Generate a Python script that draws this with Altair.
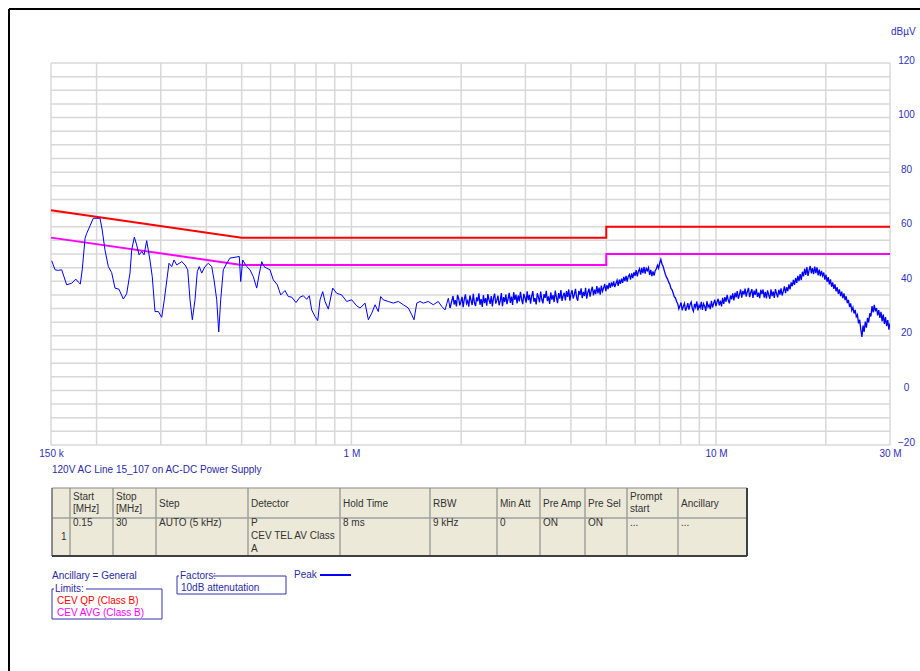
import altair as alt
import numpy as np
import pandas as pd

# ---------------------------------------------------------------------------
# Peak trace, 150 kHz .. 1.9 MHz (individually resolved points)
scan_freq_mhz = [
    0.1507, 0.1539, 0.157, 0.1605, 0.1656, 0.171, 0.1754, 0.1782, 0.1805, 0.1827,
    0.186, 0.188, 0.1919, 0.1959, 0.2044, 0.2073, 0.2109, 0.2154, 0.22, 0.2247,
    0.2304, 0.2368, 0.2419, 0.247, 0.2497, 0.2539, 0.2577, 0.2616, 0.2661, 0.27,
    0.2745, 0.2802, 0.2843, 0.2893, 0.2955, 0.3018, 0.3068, 0.316, 0.3215, 0.3262,
    0.3318, 0.3425, 0.3497, 0.3557, 0.3609, 0.3662, 0.3724, 0.3779, 0.3826, 0.3885,
    0.3967, 0.4051, 0.4139, 0.42, 0.4272, 0.4326, 0.438, 0.4453, 0.455, 0.4645,
    0.4796, 0.4926, 0.497, 0.5033, 0.5162, 0.5271, 0.5382, 0.5499, 0.558, 0.5676,
    0.5759, 0.5857, 0.598, 0.6107, 0.6263, 0.6399, 0.6575, 0.6713, 0.686, 0.7048,
    0.7229, 0.738, 0.754, 0.7665, 0.7782, 0.7947, 0.8084, 0.8202, 0.8343, 0.8465,
    0.8643, 0.8886, 0.9114, 0.9406, 0.9706, 1.0017, 1.034, 1.056, 1.09, 1.113,
    1.137, 1.161, 1.185, 1.203, 1.223, 1.262, 1.303, 1.345, 1.388, 1.433,
    1.464, 1.485, 1.511, 1.542, 1.575, 1.625, 1.677, 1.731, 1.768, 1.806,
    1.844, 1.864,
]
scan_level_dbuv = [
    47.5, 44.2, 44.0, 44.2, 38.7, 39.3, 40.8, 39.7, 39.0, 44.2,
    55.8, 57.6, 60.3, 63.1, 63.1, 58.8, 51.5, 45.4, 43.2, 37.5,
    37.1, 33.5, 35.4, 43.0, 51.5, 56.2, 53.3, 49.7, 50.9, 49.7,
    54.9, 47.8, 41.7, 28.9, 28.9, 26.8, 33.2, 46.6, 45.4, 47.8,
    46.0, 47.2, 46.0, 44.2, 33.2, 25.9, 33.2, 43.6, 45.4, 43.0,
    45.4, 46.6, 45.4, 40.5, 33.2, 21.4, 33.2, 44.2, 46.6, 48.5,
    48.8, 49.1, 39.9, 47.8, 45.4, 44.2, 41.7, 37.5, 42.3, 47.2,
    45.4, 44.8, 44.2, 40.5, 38.7, 35.0, 36.6, 34.4, 34.2, 32.2,
    34.2, 34.7, 33.4, 34.7, 29.5, 27.1, 25.6, 33.2, 36.2, 32.6,
    29.8, 37.5, 35.6, 35.0, 32.6, 33.2, 31.0, 30.2, 32.0, 25.9,
    28.3, 31.4, 28.9, 34.4, 33.2, 32.6, 32.0, 32.6, 31.4, 30.2,
    27.7, 25.9, 32.0, 32.6, 32.0, 32.6, 31.4, 32.6, 30.8, 29.5,
    33.8, 30.2,
]

# Peak trace, 1.9 .. 30 MHz (dense, log-spaced sweep points)
dense_start_mhz, dense_stop_mhz = 1.9, 30.0
dense_level_dbuv = [
    34.6, 31.5, 33.1, 30.8, 35.0, 33.7, 31.2, 32.6, 34.3, 30.5,
    33.4, 35.2, 31.9, 32.9, 30.7, 34.8, 33.0, 31.3, 35.4, 32.2,
    30.9, 34.1, 32.7, 35.6, 31.4, 33.5, 30.6, 34.9, 32.0, 33.8,
    31.1, 35.3, 33.2, 31.7, 34.6, 30.8, 33.9, 35.5, 31.8, 33.0,
    34.7, 31.2, 32.8, 35.7, 30.9, 34.2, 32.4, 35.1, 31.6, 33.6,
    35.8, 32.1, 34.4, 31.3, 36.0, 33.2, 35.1, 31.9, 34.8, 32.6,
    36.1, 33.5, 31.6, 35.4, 34.0, 32.2, 36.3, 33.1, 35.0, 31.8,
    34.6, 36.4, 32.5, 33.8, 31.5, 35.6, 34.2, 32.3, 36.2, 33.4,
    31.9, 35.3, 33.9, 36.5, 32.7, 34.5, 31.7, 35.9, 33.3, 34.9,
    32.4, 36.6, 34.1, 32.0, 35.7, 33.6, 36.8, 32.8, 34.7, 35.8,
    33.0, 36.4, 34.3, 37.0, 32.9, 35.5, 36.7, 33.7, 35.2, 37.2,
    34.0, 32.9, 36.5, 35.0, 37.4, 33.8, 36.1, 34.6, 37.6, 33.6,
    35.9, 37.3, 34.4, 36.6, 38.0, 34.8, 36.9, 35.3, 38.2, 35.6,
    37.7, 35.1, 38.4, 36.3, 37.5, 39.0, 36.4, 38.6, 37.1, 39.4,
    37.6, 39.6, 38.1, 40.0, 37.9, 39.2, 40.4, 38.3, 40.6, 39.1,
    41.0, 39.4, 41.6, 40.1, 42.0, 39.9, 41.8, 42.5, 40.6, 42.9,
    41.2, 43.3, 42.0, 44.1, 41.8, 43.6, 44.6, 42.4, 44.9, 43.0,
    45.3, 42.8, 44.7, 43.9, 45.0, 42.3, 44.2, 41.9, 43.6, 42.1,
    43.9, 44.6, 45.9, 44.8, 46.7, 48.0, 46.3, 45.5, 44.0, 42.6,
    41.5, 40.8, 39.6, 38.9, 37.4, 36.9, 35.6, 34.3, 33.9, 32.6,
    31.8, 29.9, 31.0, 32.2, 29.4, 30.8, 31.9, 29.2, 30.4, 32.0,
    29.6, 31.5, 32.4, 30.1, 29.0, 31.7, 30.5, 32.6, 29.3, 31.2,
    30.3, 32.5, 29.5, 31.8, 30.9, 29.1, 32.7, 30.6, 31.4, 29.8,
    32.8, 30.4, 31.9, 33.3, 30.9, 32.4, 33.6, 31.2, 32.9, 30.8,
    33.9, 31.7, 34.2, 32.5, 35.0, 33.1, 31.9, 34.8, 33.4, 35.6,
    33.0, 35.8, 34.1, 36.4, 33.6, 35.2, 37.0, 34.0, 36.5, 35.1,
    37.3, 34.4, 36.2, 37.6, 34.2, 35.9, 37.1, 33.9, 36.6, 35.0,
    37.2, 34.3, 35.8, 33.8, 36.9, 35.3, 37.0, 34.0, 36.1, 33.7,
    36.7, 35.0, 33.6, 37.0, 34.6, 36.2, 33.9, 37.1, 35.5, 34.1,
    36.9, 35.1, 37.4, 34.8, 36.3, 38.1, 35.7, 37.8, 36.4, 38.9,
    37.0, 39.6, 38.2, 40.5, 38.7, 41.2, 39.4, 42.0, 40.1, 42.6,
    40.4, 43.5, 41.8, 44.6, 42.3, 45.2, 42.0, 44.1, 45.6, 42.9,
    44.8, 42.6, 45.4, 43.0, 45.1, 42.2, 44.3, 41.9, 43.8, 42.0,
    43.2, 40.6, 42.4, 39.8, 41.5, 38.9, 40.7, 38.0, 39.6, 37.2,
    38.9, 36.3, 37.8, 35.4, 37.0, 34.6, 36.2, 33.8, 35.6, 33.1,
    34.5, 32.0, 33.2, 30.6, 31.9, 29.3, 30.4, 28.2, 29.5, 27.0,
    27.8, 24.6, 25.9, 22.4, 19.6, 23.8, 21.5, 25.2, 23.0, 26.6,
    24.9, 28.3, 27.1, 30.9, 28.6, 31.4, 29.0, 30.2, 27.5, 29.4,
    26.6, 28.8, 25.3, 27.9, 24.4, 26.9, 23.6, 25.8, 22.3, 24.6,
]

# Limit lines (CEV QP / CEV AVG, Class B)
qp_freq_mhz = [0.15, 0.5, 5.0, 5.0, 30.0]
qp_level_dbuv = [66, 56, 56, 60, 60]
avg_freq_mhz = [0.15, 0.5, 5.0, 5.0, 30.0]
avg_level_dbuv = [56, 46, 46, 50, 50]

# Axis ticks and grid
x_tick_values = [0.15, 1, 10, 30]
x_tick_labels = ["150 k", "1 M", "10 M", "30 M"]
y_tick_values = [-20, 0, 20, 40, 60, 80, 100, 120]
grid_freq_mhz = [0.15, 0.2, 0.3, 0.4, 0.5, 0.6, 0.7, 0.8, 0.9,
                 1, 2, 3, 4, 5, 6, 7, 8, 9, 10, 20, 30]
grid_level_dbuv = list(range(-20, 121, 5))

# Scan settings table
table_headers = [["", ""], ["Start", "[MHz]"], ["Stop", "[MHz]"], ["Step"], ["Detector"],
                 ["Hold Time"], ["RBW"], ["Min Att"], ["Pre Amp"], ["Pre Sel"],
                 ["Prompt", "start"], ["Ancillary"]]
table_row = [["1"], ["0.15"], ["30"], ["AUTO (5 kHz)"], ["P", "CEV TEL AV Class", "A"],
             ["8 ms"], ["9 kHz"], ["0"], ["ON"], ["ON"], ["..."], ["..."]]

chart_caption = "120V AC Line 15_107 on AC-DC Power Supply"
unit_label = "dBµV"

# ---------------------------------------------------------------------------
# Layout (pixels)
PLOT_W, PLOT_H = 839, 382
OX, OY = 51, 63
FONT = "Liberation Sans"
FS = 10
BLUE_TXT = "#3030c0"
NAVY_TXT = "#2a2aa8"
TRACE = "#0000ff"
RED = "#ff0000"
MAGENTA = "#ff00ff"
GRID = "#d8d8d8"

col_edges = [52, 70, 113, 156, 248, 340, 430, 497, 540, 585, 627, 678, 747]
tbl_top, tbl_mid, tbl_bot = 488, 518, 556

xscale = alt.Scale(type="log", domain=[0.15, 30], nice=False)
yscale = alt.Scale(domain=[-20, 120], nice=False, zero=False)

label_expr = " : ".join(
    f"abs(datum.value - {v}) < 1e-6 ? '{l}'" for v, l in zip(x_tick_values, x_tick_labels)
) + " : ''"

xaxis = alt.Axis(values=x_tick_values, labelExpr=label_expr, grid=False,
                 domain=False, ticks=False, labelFont=FONT, labelFontSize=FS,
                 labelColor=BLUE_TXT, labelPadding=3, title=None, labelOverlap=False,
                 labelFlush=False)
yaxis = alt.Axis(orient="right", values=y_tick_values, grid=False, domain=False,
                 ticks=False, labelFont=FONT, labelFontSize=FS,
                 labelColor=BLUE_TXT, labelAlign="center", labelPadding=16,
                 labelBaseline="alphabetic", title=None, labelOverlap=False,
                 labelFlush=False)

# Grid
vgrid = alt.Chart(pd.DataFrame({"f": grid_freq_mhz})).mark_rule(
    color=GRID, strokeWidth=1.5
).encode(
    x=alt.X("f:Q", scale=xscale, axis=xaxis),
    y=alt.value(0), y2=alt.value(PLOT_H),
)
hgrid = alt.Chart(pd.DataFrame({"l": grid_level_dbuv})).mark_rule(
    color=GRID, strokeWidth=1.5
).encode(
    y=alt.Y("l:Q", scale=yscale, axis=yaxis),
    x=alt.value(0), x2=alt.value(PLOT_W),
)

# Trace: resolved low-frequency part and dense sweep part (joined at 1.864 MHz)
dense_freq_mhz = np.geomspace(dense_start_mhz, dense_stop_mhz, len(dense_level_dbuv))
low_df = pd.DataFrame({"f": scan_freq_mhz, "l": scan_level_dbuv})
low_df["i"] = range(len(low_df))
dense_df = pd.DataFrame({
    "f": [scan_freq_mhz[-1]] + list(dense_freq_mhz),
    "l": [scan_level_dbuv[-1]] + list(dense_level_dbuv),
})
dense_df["i"] = range(len(dense_df))

trace_low = alt.Chart(low_df).mark_line(color=TRACE, strokeWidth=1, clip=True).encode(
    x=alt.X("f:Q", scale=xscale, axis=xaxis),
    y=alt.Y("l:Q", scale=yscale, axis=yaxis),
    order="i:Q",
)
trace_dense = alt.Chart(dense_df).mark_line(color=TRACE, strokeWidth=1.3, clip=True).encode(
    x=alt.X("f:Q", scale=xscale, axis=xaxis),
    y=alt.Y("l:Q", scale=yscale, axis=yaxis),
    order="i:Q",
)

limits_df = pd.concat([
    pd.DataFrame({"f": qp_freq_mhz, "l": qp_level_dbuv, "name": "QP",
                  "i": range(len(qp_freq_mhz))}),
    pd.DataFrame({"f": avg_freq_mhz, "l": avg_level_dbuv, "name": "AVG",
                  "i": range(len(avg_freq_mhz))}),
])
limits = alt.Chart(limits_df).mark_line(strokeWidth=2).encode(
    x=alt.X("f:Q", scale=xscale, axis=xaxis),
    y=alt.Y("l:Q", scale=yscale, axis=yaxis),
    detail="name:N",
    order="i:Q",
    color=alt.Color("name:N", scale=alt.Scale(domain=["QP", "AVG"], range=[RED, MAGENTA]),
                    legend=None),
)

# ---------------------------------------------------------------------------
# Decorations drawn in pixel space (relative to the plot origin)
def P(x, y):
    return x - OX, y - OY

rect_rows = []
def add_rect(x1, y1, x2, y2, fill, stroke, sw=1):
    a, b = P(x1, y1)
    c, d = P(x2, y2)
    rect_rows.append(dict(x=a, y=b, x2=c, y2=d, fill=fill, stroke=stroke, sw=sw))

rule_rows = []
def add_rule(x1, y1, x2, y2, color, w=1):
    a, b = P(x1, y1)
    c, d = P(x2, y2)
    rule_rows.append(dict(x=a, y=b, x2=c, y2=d, color=color, w=w))

text_rows = []
def add_text(x, y, s, color="#333333", size=FS):
    a, b = P(x, y)
    text_rows.append(dict(x=a, y=b, text=s, color=color, size=size))

# figure frame
add_rule(9, 9, 9, 671, "#000000", 2)
add_rule(9, 9, 920, 9, "#000000", 2)

# table
add_rect(col_edges[0], tbl_top, col_edges[-1], tbl_bot, "#ece9d8", "#ece9d8", 0)
for e in col_edges[1:-1]:
    add_rule(e, tbl_top, e, tbl_bot, "#a0a0a0", 1.5)
add_rule(col_edges[0], tbl_mid, col_edges[-1], tbl_mid, "#a0a0a0", 1.5)
add_rule(col_edges[0], tbl_top, col_edges[-1], tbl_top, "#8a8a8a", 1)
add_rule(col_edges[0], tbl_top, col_edges[0], tbl_bot, "#6a6a6a", 1.5)
add_rule(col_edges[0], tbl_bot, col_edges[-1], tbl_bot, "#404040", 2)
add_rule(col_edges[-1], tbl_top, col_edges[-1], tbl_bot, "#404040", 2)

for k, lines in enumerate(table_headers):
    lines = [s for s in lines if s]
    if not lines:
        continue
    ys = [504] if len(lines) == 1 else [497, 509]
    for s, yy in zip(lines, ys):
        add_text(col_edges[k] + 3, yy, s)
for k, lines in enumerate(table_row):
    if k == 0:
        add_text(61, 537, lines[0])
        continue
    for j, s in enumerate(lines):
        add_text(col_edges[k] + 3, 523 + 13 * j, s)

# caption and unit
add_text(52, 470, chart_caption, NAVY_TXT)
add_text(891, 32, unit_label, BLUE_TXT)

# legend block
add_text(52, 576, "Ancillary = General", NAVY_TXT)
add_rect(52, 589, 162, 619, "none", "#3030b0", 1)
add_rect(54, 584, 86, 594, "#ffffff", "#ffffff", 0)
add_text(55, 589, "Limits:", NAVY_TXT)
add_text(57, 601, "CEV QP (Class B)", RED)
add_text(57, 613, "CEV AVG (Class B)", MAGENTA)
add_rect(177, 576, 286, 594, "none", "#3030b0", 1)
add_rect(179, 571, 213, 581, "#ffffff", "#ffffff", 0)
add_text(180, 576, "Factors:", NAVY_TXT)
add_text(181, 588, "10dB attenutation", NAVY_TXT)
add_text(294, 575, "Peak", NAVY_TXT)
add_rule(320, 575, 351, 575, TRACE, 2)

rects = alt.Chart(pd.DataFrame(rect_rows)).mark_rect().encode(
    x=alt.X("x:Q", scale=None), x2="x2:Q",
    y=alt.Y("y:Q", scale=None), y2="y2:Q",
    fill=alt.Fill("fill:N", scale=None),
    stroke=alt.Stroke("stroke:N", scale=None),
    strokeWidth=alt.StrokeWidth("sw:Q", scale=None),
)
rules = alt.Chart(pd.DataFrame(rule_rows)).mark_rule().encode(
    x=alt.X("x:Q", scale=None), x2="x2:Q",
    y=alt.Y("y:Q", scale=None), y2="y2:Q",
    color=alt.Color("color:N", scale=None),
    strokeWidth=alt.StrokeWidth("w:Q", scale=None),
)
texts = alt.Chart(pd.DataFrame(text_rows)).mark_text(
    align="left", baseline="middle", font=FONT
).encode(
    x=alt.X("x:Q", scale=None),
    y=alt.Y("y:Q", scale=None),
    text="text:N",
    color=alt.Color("color:N", scale=None),
    size=alt.Size("size:Q", scale=None),
)

chart = alt.layer(hgrid, vgrid, limits, trace_low, trace_dense, rects, rules, texts).properties(
    width=PLOT_W, height=PLOT_H,
    padding={"left": OX, "top": OY, "right": 920 - OX - PLOT_W, "bottom": 671 - OY - PLOT_H},
    autosize=alt.AutoSizeParams(type="none"),
    background="white",
).configure_view(stroke=None)

chart.save("out.html", embed_options={"renderer": "svg", "actions": False})
